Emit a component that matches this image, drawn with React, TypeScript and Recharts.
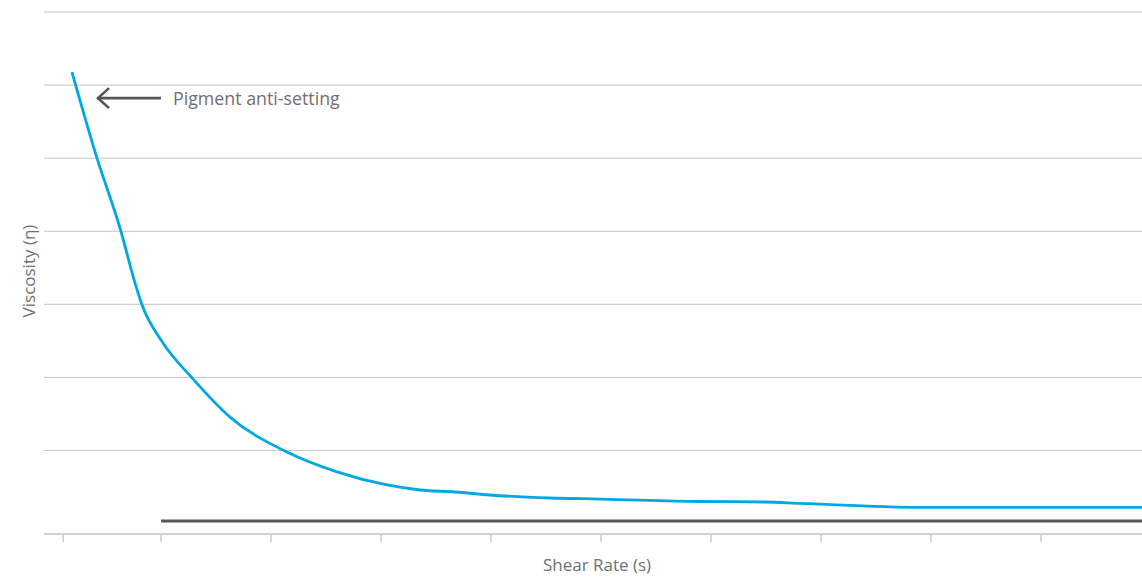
import React, { useLayoutEffect } from 'react';
import { ComposedChart, Line, XAxis, YAxis, CartesianGrid, ReferenceLine } from 'recharts';

// Blue curve: shear rate vs viscosity
const shearRate = [0.19, 0.418, 0.636, 0.755, 0.827, 1.018, 1.282, 1.627, 2.145, 2.6, 3.055, 3.355, 3.673, 3.99, 4.536, 4.99, 5.9, 6.49, 6.81, 7.9, 9.918];
const viscosity = [88.5, 72.0, 57.95, 48.7, 43.9, 36.6, 29.9, 22.4, 15.7, 11.9, 9.39, 8.43, 8.05, 7.47, 6.9, 6.7, 6.23, 6.13, 5.88, 5.11, 5.11];

// Dark reference series
const baselineRate = [1, 9.918];
const baselineViscosity = [2.5, 2.5];

// Axes
const xDomain = [-0.064, 9.918];
const xTicks = [0.11, 1, 2, 3, 4, 5, 6, 7, 8, 9];
const yDomain = [0, 100];
const yTicks = [16, 30, 44, 58, 72, 86, 100];

// Annotation
const annotationText = 'Pigment anti-setting';
const arrowTail = { x: 1.0, y: 83.5 };
const arrowTip = { x: 0.418, y: 83.5 };

const xLabel = 'Shear Rate (s)';
const yLabel = 'Viscosity (η)';

const curveData = shearRate.map((x, i) => ({ x, v: viscosity[i] }));
const baselineData = baselineRate.map((x, i) => ({ x, b: baselineViscosity[i] }));

const FONT = '"Open Sans", sans-serif';
const TEXT_COLOR = '#707070';

const ArrowShape = (props: any) => {
  const { x1, y1, x2, y2 } = props;
  return (
    <g>
      <line x1={x1} y1={y1} x2={x2} y2={y2} stroke="#555555" strokeWidth={2.6} />
      <polyline
        points={`${x2 + 12},${y2 - 10} ${x2 + 1},${y2} ${x2 + 12},${y2 + 10}`}
        fill="none"
        stroke="#555555"
        strokeWidth={2.6}
      />
      <text x={x1 + 12} y={y1 + 7} fill={TEXT_COLOR} fontFamily={FONT} fontSize={17.8}>
        {annotationText}
      </text>
    </g>
  );
};

const XLabel = (props: any) => {
  const { viewBox } = props;
  const cx = viewBox.x + viewBox.width / 2 + 4;
  return (
    <text x={cx} y={viewBox.y + viewBox.height} textAnchor="middle" fill={TEXT_COLOR} fontFamily={FONT} fontSize={17}>
      {xLabel}
    </text>
  );
};

const YLabel = (props: any) => {
  const { viewBox } = props;
  const x = viewBox.x + viewBox.width - 9;
  const y = viewBox.y + viewBox.height / 2 - 2;
  return (
    <text x={x} y={y} textAnchor="middle" transform={`rotate(-90, ${x}, ${y})`} fill={TEXT_COLOR} fontFamily={FONT} fontSize={17}>
      {yLabel}
    </text>
  );
};

const NoTick = () => <g />;

export default function App() {
  useLayoutEffect(() => {
    document.body.style.margin = '0';
  }, []);
  return (
    <div style={{ width: 1142, height: 579, paddingLeft: 8, paddingTop: 8, boxSizing: 'border-box', overflow: 'hidden' }}>
      <ComposedChart
        width={1134}
        height={571}
        margin={{ top: 4, right: 0, bottom: 8, left: 0 }}
      >
        <CartesianGrid vertical={false} stroke="#c4c4c4" strokeWidth={1} />
        <XAxis
          type="number"
          dataKey="x"
          domain={xDomain}
          ticks={xTicks}
          allowDataOverflow
          interval={0}
          tick={<NoTick />}
          tickSize={8}
          tickLine={{ stroke: '#cccccc', strokeWidth: 1.5 }}
          axisLine={{ stroke: '#cccccc', strokeWidth: 1.5 }}
          height={37}
          label={<XLabel />}
        />
        <YAxis
          type="number"
          domain={yDomain}
          ticks={yTicks}
          allowDataOverflow
          interval={0}
          tick={<NoTick />}
          tickLine={false}
          axisLine={false}
          width={36}
          label={<YLabel />}
        />
        <Line
          data={baselineData}
          dataKey="b"
          type="linear"
          stroke="#585858"
          strokeWidth={3}
          dot={false}
          activeDot={false}
          isAnimationActive={false}
        />
        <Line
          data={curveData}
          dataKey="v"
          type="monotone"
          stroke="#00a8e3"
          strokeWidth={2.8}
          dot={false}
          activeDot={false}
          isAnimationActive={false}
        />
        <ReferenceLine segment={[arrowTail, arrowTip]} shape={ArrowShape} />
      </ComposedChart>
    </div>
  );
}
